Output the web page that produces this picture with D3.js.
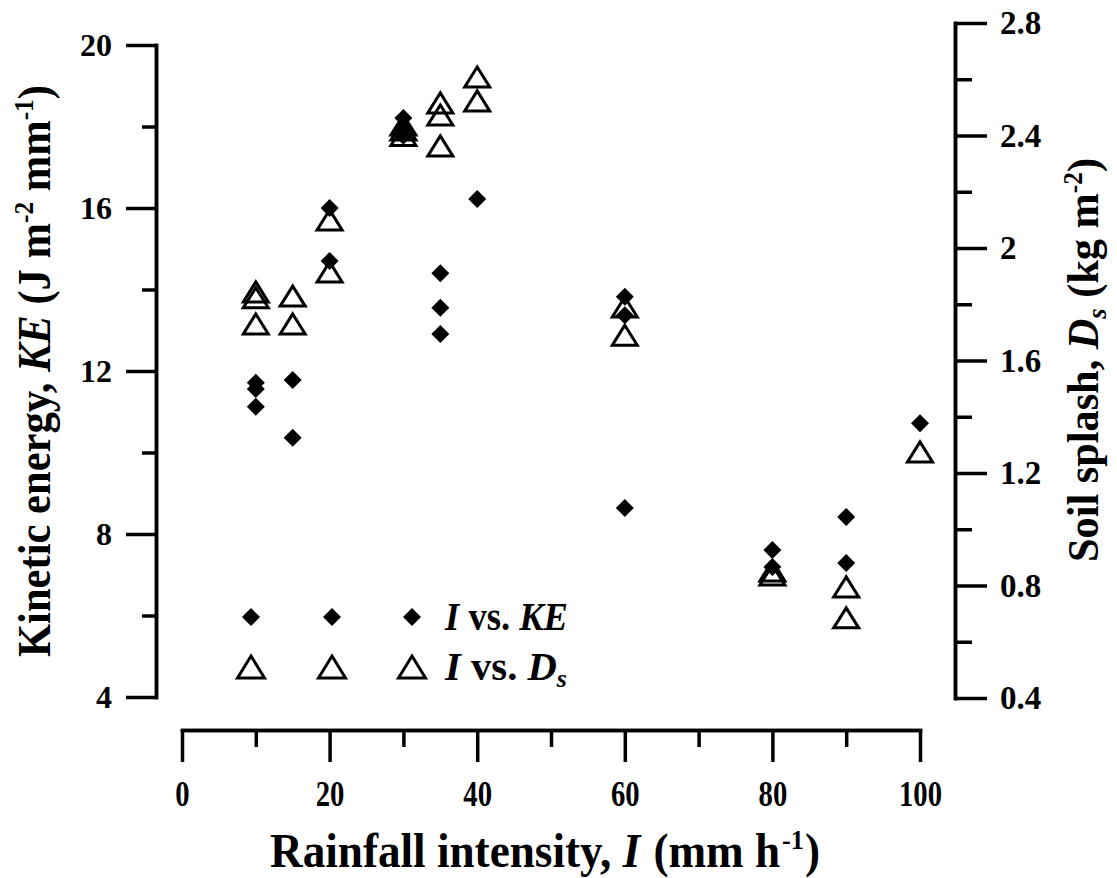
<!DOCTYPE html>
<html>
<head>
<meta charset="utf-8">
<script src="https://cdn.jsdelivr.net/npm/d3@7"></script>
<style>
  body { margin: 0; background: #fff; }
  svg { display: block; font-family: "Liberation Serif", "Times New Roman", serif; font-weight: bold; }
</style>
</head>
<body>
<main></main>
<script>
// rainfall intensity I (mm/h) and kinetic energy KE (J m-2 mm-1)
const keIntensity = [10, 10, 10, 15, 15, 20, 20, 30, 30, 30, 35, 35, 35, 40, 60, 60, 60, 80, 80, 90, 90, 100];
const keValues = [11.71, 11.56, 11.12, 11.78, 10.36, 16.0, 14.7, 18.21, 17.96, 17.77, 14.4, 13.55, 12.91, 16.22, 13.82, 13.37, 8.64, 7.61, 7.19, 8.42, 7.29, 10.72];

// rainfall intensity I (mm/h) and soil splash Ds (kg m-2)
const dsIntensity = [10, 10, 10, 15, 15, 20, 20, 30, 30, 30, 35, 35, 35, 40, 40, 60, 60, 80, 80, 90, 90, 100];
const dsValues = [1.844, 1.823, 1.73, 1.829, 1.73, 2.10, 1.915, 2.437, 2.42, 2.40, 2.516, 2.473, 2.363, 2.608, 2.523, 1.79, 1.69, 0.852, 0.837, 0.795, 0.685, 1.275];

const xMajor = [0, 20, 40, 60, 80, 100];
const xMinor = [10, 30, 50, 70, 90];
const keMajor = [4, 8, 12, 16, 20];
const keMinor = [6, 10, 14, 18];
const dsMajor = [0.4, 0.8, 1.2, 1.6, 2.0, 2.4, 2.8];
const dsMinor = [0.6, 1.0, 1.4, 1.8, 2.2, 2.6];

const width = 1117;
const height = 878;

const svg = d3.select('main')
  .append('svg')
  .attr('width', width)
  .attr('height', height);

const x = d3.scaleLinear().domain([0, 100]).range([182, 920]);
const yKE = d3.scaleLinear().domain([4, 20]).range([697, 45]);
const yDs = d3.scaleLinear().domain([0.4, 2.8]).range([698, 23]);

const axisY = 730;
const leftX = 156;
const rightX = 955;

function styleAxis(g, fontSize) {
  g.selectAll('path.domain').attr('stroke', '#000').attr('stroke-width', 3.5).attr('stroke-linecap', 'square');
  g.selectAll('.tick line').attr('stroke', '#000').attr('stroke-width', 3.5);
  g.selectAll('.tick text')
    .attr('fill', '#000')
    .style('font-family', '"Liberation Serif", "Times New Roman", serif')
    .style('font-weight', 'bold')
    .style('font-size', fontSize + 'px');
}

// x axis
let gx = svg.append('g')
  .attr('transform', 'translate(0,' + axisY + ')')
  .call(d3.axisBottom(x).tickValues(xMajor).tickSize(32).tickSizeOuter(0).tickPadding(19).tickFormat(d3.format('d')));
styleAxis(gx, 35);
gx.selectAll('.tick text').attr('transform', 'scale(0.82,1)');
let gxm = svg.append('g')
  .attr('transform', 'translate(0,' + axisY + ')')
  .call(d3.axisBottom(x).tickValues(xMinor).tickSize(17).tickSizeOuter(0).tickFormat(''));
styleAxis(gxm, 32);

// left axis
let gl = svg.append('g')
  .attr('transform', 'translate(' + leftX + ',0)')
  .call(d3.axisLeft(yKE).tickValues(keMajor).tickSize(30).tickSizeOuter(0).tickPadding(14).tickFormat(d3.format('d')));
styleAxis(gl, 32);
let glm = svg.append('g')
  .attr('transform', 'translate(' + leftX + ',0)')
  .call(d3.axisLeft(yKE).tickValues(keMinor).tickSize(14).tickSizeOuter(0).tickFormat(''));
styleAxis(glm, 32);

// right axis
let gr = svg.append('g')
  .attr('transform', 'translate(' + rightX + ',0)')
  .call(d3.axisRight(yDs).tickValues(dsMajor).tickSize(32).tickSizeOuter(0).tickPadding(13)
    .tickFormat(function (d) { return String(Math.round(d * 10) / 10); }));
styleAxis(gr, 33);
let grm = svg.append('g')
  .attr('transform', 'translate(' + rightX + ',0)')
  .call(d3.axisRight(yDs).tickValues(dsMinor).tickSize(17).tickSizeOuter(0).tickFormat(''));
styleAxis(grm, 33);

// markers
const diamond = d3.symbol().type(d3.symbolSquare).size(162)();
function triangle(w, h) {
  return 'M0,' + (-h / 2) + 'L' + (w / 2) + ',' + (h / 2) + 'L' + (-w / 2) + ',' + (h / 2) + 'Z';
}
const triPath = triangle(25, 20);

svg.append('g')
  .selectAll('path')
  .data(keValues)
  .enter()
  .append('path')
  .attr('d', diamond)
  .attr('fill', '#000')
  .attr('transform', function (d, i) {
    return 'translate(' + x(keIntensity[i]) + ',' + yKE(d) + ') rotate(45)';
  });

svg.append('g')
  .selectAll('path')
  .data(dsValues)
  .enter()
  .append('path')
  .attr('d', triPath)
  .attr('fill', 'none')
  .attr('stroke', '#000')
  .attr('stroke-width', 3)
  .attr('stroke-linejoin', 'miter')
  .attr('transform', function (d, i) {
    return 'translate(' + x(dsIntensity[i]) + ',' + yDs(d) + ')';
  });

// legend
const legendX = [251, 332, 412];
let lg = svg.append('g');
legendX.forEach(function (lx) {
  lg.append('path').attr('d', diamond).attr('fill', '#000')
    .attr('transform', 'translate(' + lx + ',617) rotate(45)');
  lg.append('path').attr('d', triangle(27, 22)).attr('fill', 'none')
    .attr('stroke', '#000').attr('stroke-width', 3)
    .attr('transform', 'translate(' + lx + ',667)');
});
let t1 = lg.append('text').attr('x', 445).attr('y', 630)
  .attr('textLength', 123).attr('lengthAdjust', 'spacingAndGlyphs')
  .style('font-size', '39px');
t1.append('tspan').style('font-style', 'italic').text('I');
t1.append('tspan').text(' vs. ');
t1.append('tspan').style('font-style', 'italic').text('KE');
let t2 = lg.append('text').attr('x', 445).attr('y', 680)
  .attr('textLength', 122).attr('lengthAdjust', 'spacingAndGlyphs')
  .style('font-size', '39px');
t2.append('tspan').style('font-style', 'italic').text('I');
t2.append('tspan').text(' vs. ');
t2.append('tspan').style('font-style', 'italic').text('D');
t2.append('tspan').style('font-style', 'italic').style('font-size', '25px').attr('dy', 7).text('s');

// axis titles
let xt = svg.append('text')
  .attr('x', 545).attr('y', 867)
  .attr('text-anchor', 'middle')
  .attr('textLength', 550).attr('lengthAdjust', 'spacingAndGlyphs')
  .style('font-size', '48px');
xt.append('tspan').text('Rainfall intensity, ');
xt.append('tspan').style('font-style', 'italic').text('I');
xt.append('tspan').attr('dx', 2).text('\u00a0(mm h');
xt.append('tspan').style('font-size', '28px').attr('dx', 2).attr('dy', -18).text('-1');
xt.append('tspan').attr('dx', 1).attr('dy', 18).text(')');

let lt = svg.append('text')
  .attr('transform', 'translate(50,371) rotate(-90)')
  .attr('text-anchor', 'middle')
  .attr('textLength', 572).attr('lengthAdjust', 'spacingAndGlyphs')
  .style('font-size', '47px');
lt.append('tspan').text('Kinetic energy, ');
lt.append('tspan').style('font-style', 'italic').text('KE');
lt.append('tspan').text(' (J m');
lt.append('tspan').style('font-size', '28px').attr('dy', -17).text('-2');
lt.append('tspan').attr('dy', 17).text(' mm');
lt.append('tspan').style('font-size', '28px').attr('dy', -17).text('-1');
lt.append('tspan').attr('dy', 17).text(')');

let rt = svg.append('text')
  .attr('transform', 'translate(1098,360) rotate(-90)')
  .attr('text-anchor', 'middle')
  .attr('textLength', 404).attr('lengthAdjust', 'spacingAndGlyphs')
  .style('font-size', '45px');
rt.append('tspan').text('Soil splash, ');
rt.append('tspan').style('font-style', 'italic').text('D');
rt.append('tspan').style('font-style', 'italic').style('font-size', '28px').attr('dy', 8).text('s');
rt.append('tspan').attr('dy', -8).text(' (kg m');
rt.append('tspan').style('font-size', '27px').attr('dy', -16).text('-2');
rt.append('tspan').attr('dy', 16).text(')');
</script>
</body>
</html>
